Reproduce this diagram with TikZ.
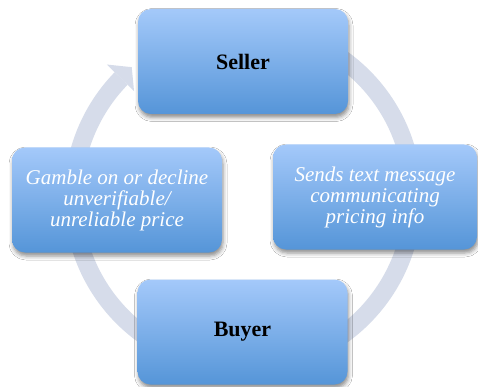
\documentclass[tikz,border=0pt]{standalone}
\usepackage{fontspec}
\setmainfont{Liberation Serif}
\usetikzlibrary{shadows.blur}
\definecolor{boxtop}{HTML}{A4C9FA}
\definecolor{boxbot}{HTML}{5595D8}
\definecolor{ringcol}{HTML}{D6DCEA}
\begin{document}
\begin{tikzpicture}[x=1pt,y=1pt,
  cyclebox/.style={rounded corners=13pt, minimum width=210pt, minimum height=105pt,
    top color=boxtop, bottom color=boxbot, align=center,
    blur shadow={shadow xshift=1pt, shadow yshift=-3.5pt, shadow blur radius=4pt, shadow opacity=45}},
  rolelabel/.style={font=\fontsize{22}{24}\selectfont\bfseries, text=black},
  steplabel/.style={font=\fontsize{21}{21}\selectfont\itshape, text=white}]
  \useasboundingbox (0,0) rectangle (478,-387);
  \fill[white] (0,0) rectangle (478,-387);
  % ring of the cycle with its arrowhead
  \coordinate (c) at (243,-197);
  \draw[ringcol, line width=18pt] ([shift={(c)}]95:170) arc[start angle=95, end angle=-224.2, radius=170];
  \fill[ringcol] ([shift={(c)}]135.8:152) -- ([shift={(c)}]135.8:190) -- ([shift={(c)}]130.6:171) -- cycle;
  % the four stages
  \node[cyclebox, rolelabel] (seller) at (243,-61.5) {Seller};
  \node[cyclebox, steplabel, minimum width=204pt] (sends) at (375,-197) {Sends text message\\communicating\\pricing info};
  \node[cyclebox, rolelabel] (buyer) at (242.5,-332) {Buyer};
  \node[cyclebox, steplabel] (gamble) at (117,-200) {Gamble on or decline\\unverifiable/\\unreliable price};
\end{tikzpicture}
\end{document}
